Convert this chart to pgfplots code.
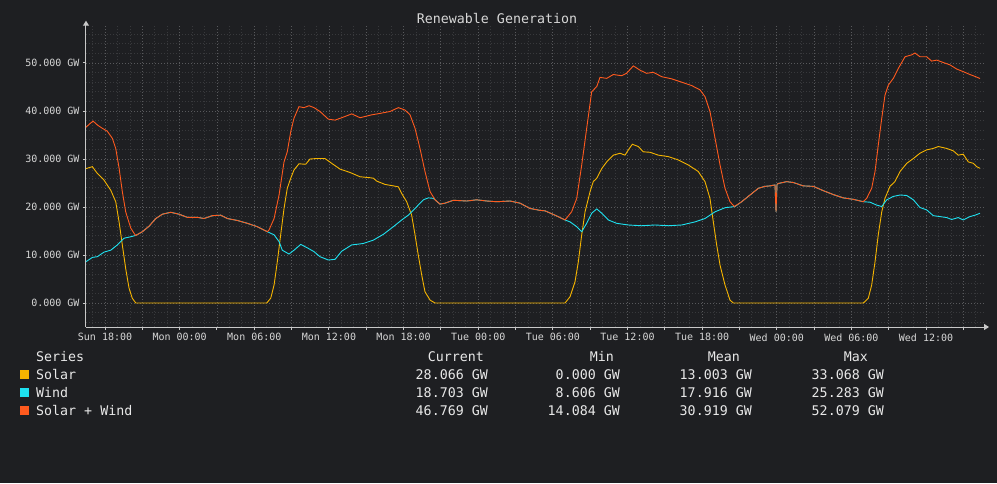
\documentclass[border=0pt]{standalone}
\usepackage{fontspec}
\setmainfont{DejaVu Sans Mono}
\usepackage{pgfplots}
\pgfplotsset{compat=1.18}
\usepackage{pgfplotstable}
\usetikzlibrary{arrows.meta}
\definecolor{bg}{RGB}{30,31,34}
\definecolor{solar}{RGB}{245,180,0}
\definecolor{wind}{RGB}{30,225,240}
\definecolor{total}{RGB}{255,90,30}
\definecolor{gmaj}{RGB}{88,89,92}
\definecolor{gmin}{RGB}{56,57,60}
\definecolor{axc}{RGB}{200,200,200}
\definecolor{txt}{RGB}{215,215,215}
\definecolor{ltxt}{RGB}{232,232,232}

\pgfplotstableread{
t v
-1.53 28.0
-1.02 28.4
-0.62 27.0
-0.08 25.6
0.46 23.5
0.86 21.1
1.13 16.9
1.39 12.1
1.66 7.2
1.93 3.1
2.19 1.0
2.47 0
13.00 0
13.32 1.0
13.59 3.75
13.85 8.6
14.12 14.2
14.39 19.7
14.65 23.9
14.93 26.0
15.19 27.7
15.59 29.0
16.13 28.9
16.48 30.0
17.02 30.1
17.68 30.1
18.22 29.1
18.89 27.9
19.69 27.2
20.50 26.3
21.30 26.1
21.57 26.0
21.84 25.4
22.51 24.7
23.18 24.4
23.58 24.2
23.85 22.8
24.25 21.1
24.65 18.3
24.92 14.2
25.18 10.0
25.46 5.8
25.72 2.35
26.13 0.6
26.53 0
36.98 0
37.38 1.3
37.78 4.4
38.05 8.6
38.32 14.2
38.59 19.0
38.99 23.2
39.25 25.3
39.53 26.0
39.93 28.0
40.33 29.4
40.86 30.8
41.40 31.2
41.80 30.8
42.07 31.9
42.39 33.07
42.87 32.6
43.27 31.5
43.81 31.4
44.48 30.8
45.28 30.5
46.09 29.8
46.89 28.75
47.69 27.4
48.23 25.3
48.63 21.8
48.90 16.9
49.17 12.1
49.44 7.9
49.84 3.75
50.24 0.6
50.51 0
60.96 0
61.36 1.0
61.63 3.75
61.90 8.6
62.16 14.2
62.44 19.0
62.70 21.8
63.10 24.3
63.50 25.3
63.91 27.4
64.45 29.1
64.98 30.1
65.51 31.2
66.05 31.9
66.58 32.2
66.99 32.6
67.66 32.2
68.19 31.7
68.59 30.8
68.99 31.0
69.40 29.4
69.80 29.1
70.07 28.4
70.34 28.07
}\solartab

\pgfplotstableread{
t v
-1.53 8.61
-1.02 9.5
-0.62 9.65
-0.08 10.6
0.46 11.0
0.99 12.1
1.53 13.5
2.07 13.8
2.47 14.08
3.00 14.85
3.54 16.0
4.08 17.6
4.61 18.5
5.28 18.9
5.95 18.5
6.62 17.85
7.42 17.85
7.96 17.6
8.63 18.2
9.30 18.3
9.83 17.6
10.63 17.2
11.44 16.6
12.24 15.9
13.05 14.85
13.59 14.2
13.99 12.8
14.25 11.0
14.79 10.2
15.19 11.0
15.73 12.2
16.26 11.5
16.80 10.7
17.28 9.65
17.95 8.96
18.49 9.1
19.03 10.8
19.83 12.1
20.76 12.4
21.57 13.1
22.37 14.3
23.18 15.9
23.85 17.3
24.38 18.3
24.92 19.7
25.59 21.5
25.99 21.9
26.39 21.8
26.93 20.6
27.33 20.8
28.00 21.4
29.08 21.25
29.88 21.5
30.68 21.25
31.49 21.1
32.56 21.25
33.36 20.8
34.16 19.7
34.97 19.3
35.37 19.2
36.17 18.3
36.98 17.3
37.38 16.9
37.92 15.9
38.32 14.85
38.72 16.6
39.12 18.7
39.53 19.6
39.93 18.7
40.46 17.3
41.13 16.6
42.07 16.25
43.14 16.1
44.21 16.25
45.28 16.1
46.36 16.25
47.43 16.9
48.23 17.6
49.04 19.0
49.84 19.85
50.64 20.1
51.18 21.1
51.85 22.5
52.52 23.9
53.05 24.3
53.46 24.4
53.86 24.6
53.94 19.0
54.02 24.7
54.12 24.9
54.80 25.28
55.33 25.1
56.13 24.4
56.94 24.3
57.74 23.4
58.54 22.6
59.35 21.9
60.15 21.6
60.96 21.1
61.50 21.0
62.03 20.4
62.44 20.1
62.84 21.5
63.37 22.2
63.91 22.5
64.45 22.4
64.98 21.5
65.51 19.9
66.05 19.4
66.58 18.2
67.12 18.0
67.66 17.8
68.06 17.4
68.59 17.8
68.99 17.3
69.53 18.0
69.94 18.3
70.34 18.70
}\windtab

\pgfplotstableread{
t v
-1.53 36.6
-1.29 37.2
-0.96 37.9
-0.62 37.1
-0.22 36.4
0.18 35.8
0.59 34.3
0.86 32.2
1.13 28.1
1.39 23.2
1.66 19.0
2.07 15.6
2.39 14.3
2.47 14.08
3.00 14.85
3.54 16.0
4.08 17.6
4.61 18.5
5.28 18.9
5.95 18.5
6.62 17.85
7.42 17.85
7.96 17.6
8.63 18.2
9.30 18.3
9.83 17.6
10.63 17.2
11.44 16.6
12.24 15.9
13.05 14.85
13.18 15.2
13.59 17.6
13.99 22.5
14.39 29.4
14.65 31.5
14.93 35.7
15.19 38.5
15.59 40.9
15.99 40.7
16.40 41.1
16.80 40.7
17.28 39.9
17.95 38.3
18.49 38.1
19.03 38.6
19.83 39.4
20.50 38.6
21.44 39.2
22.11 39.5
22.91 39.9
23.58 40.7
24.12 40.2
24.52 39.2
24.92 36.4
25.32 32.2
25.72 27.4
26.13 23.2
26.53 21.5
26.93 20.6
27.33 20.8
28.00 21.4
29.08 21.25
29.88 21.5
30.68 21.25
31.49 21.1
32.56 21.25
33.36 20.8
34.16 19.7
34.97 19.3
35.37 19.2
36.17 18.3
36.98 17.3
37.51 19.0
37.92 21.8
38.32 28.75
38.72 36.4
39.12 44.0
39.53 45.1
39.79 47.0
40.33 46.8
40.86 47.6
41.53 47.35
41.93 47.85
42.47 49.4
43.01 48.5
43.54 47.85
44.08 48.06
44.75 47.15
45.55 46.7
46.36 46.0
47.16 45.3
47.83 44.4
48.23 43.0
48.63 39.9
49.04 34.3
49.44 28.75
49.84 23.9
50.24 21.1
50.59 20.1
51.18 21.1
51.85 22.5
52.52 23.9
53.05 24.3
53.46 24.4
53.86 24.6
53.94 19.0
54.02 24.7
54.12 24.9
54.80 25.28
55.33 25.1
56.13 24.4
56.94 24.3
57.74 23.4
58.54 22.6
59.35 21.9
60.15 21.6
60.96 21.1
61.23 21.8
61.63 23.9
61.90 27.4
62.16 32.9
62.44 38.5
62.70 43.3
62.97 45.4
63.37 46.8
63.78 48.9
64.31 51.3
64.85 51.7
65.11 52.08
65.51 51.3
66.05 51.3
66.45 50.4
66.86 50.6
67.39 50.1
67.93 49.6
68.46 48.75
68.99 48.2
69.53 47.6
69.94 47.2
70.34 46.77
}\totaltab

\begin{document}
\begin{tikzpicture}
\fill[bg] (0,0) rectangle (997pt,-483pt);
\begin{axis}[
  at={(86pt,-327pt)}, anchor=south west,
  scale only axis, width=898pt, height=301.3pt,
  xmin=-1.53, xmax=70.66, ymin=-5, ymax=57.77,
  axis x line=bottom, axis y line=left,
  axis line style={draw=axc, line width=1pt, -{Triangle[width=6pt,length=5pt]}, shorten >=-5pt},
  xtick={0,3,...,69},
  xticklabels={Sun 18:00,,Mon 00:00,,Mon 06:00,,Mon 12:00,,Mon 18:00,,Tue 00:00,,Tue 06:00,,Tue 12:00,,Tue 18:00,,Wed 00:00,,Wed 06:00,,Wed 12:00,},
  minor xtick={-1,1,2,4,5,7,8,10,11,13,14,16,17,19,20,22,23,25,26,28,29,31,32,34,35,37,38,40,41,43,44,46,47,49,50,52,53,55,56,58,59,61,62,64,65,67,68,70},
  ytick={0,10,20,30,40,50},
  yticklabels={0.000 GW,10.000 GW,20.000 GW,30.000 GW,40.000 GW,50.000 GW},
  minor ytick={-4,-2,2,4,6,8,12,14,16,18,22,24,26,28,32,34,36,38,42,44,46,48,52,54,56},
  tick align=outside, major tick length=3pt, minor tick length=0pt,
  tick style={draw=axc, line width=1pt},
  grid=both,
  major grid style={draw=gmaj, line width=0.8pt, dash pattern=on 1pt off 2pt},
  minor grid style={draw=gmin, line width=0.8pt, dash pattern=on 1pt off 2pt},
  ticklabel style={font=\fontsize{10}{12}\selectfont, text=txt},
]
\addplot[solar, line width=0.9pt] table[x=t,y=v] {\solartab};
\addplot[wind, line width=0.9pt] table[x=t,y=v] {\windtab};
\addplot[total, line width=0.9pt] table[x=t,y=v] {\totaltab};
\end{axis}
\node[anchor=base, inner sep=0pt, text=txt, font=\fontsize{13.3}{16}\selectfont] at (497pt,-23.5pt) {Renewable Generation};
\begin{scope}[every node/.style={inner sep=0pt, text=ltxt, font=\fontsize{13.3}{16}\selectfont}]
\node[anchor=base west] at (36pt,-361pt) {Series};
\node[anchor=base east] at (484pt,-361pt) {Current};
\node[anchor=base east] at (614pt,-361pt) {Min};
\node[anchor=base east] at (740pt,-361pt) {Mean};
\node[anchor=base east] at (868pt,-361pt) {Max};
\fill[solar] (20pt,-370pt) rectangle (29pt,-379pt);
\fill[wind] (20pt,-388pt) rectangle (29pt,-397pt);
\fill[total] (20pt,-406pt) rectangle (29pt,-415pt);
\node[anchor=base west] at (36pt,-379pt) {Solar};
\node[anchor=base west] at (36pt,-397pt) {Wind};
\node[anchor=base west] at (36pt,-415pt) {Solar + Wind};
\node[anchor=base east] at (488pt,-379pt) {28.066 GW};
\node[anchor=base east] at (620pt,-379pt) {0.000 GW};
\node[anchor=base east] at (752pt,-379pt) {13.003 GW};
\node[anchor=base east] at (884pt,-379pt) {33.068 GW};
\node[anchor=base east] at (488pt,-397pt) {18.703 GW};
\node[anchor=base east] at (620pt,-397pt) {8.606 GW};
\node[anchor=base east] at (752pt,-397pt) {17.916 GW};
\node[anchor=base east] at (884pt,-397pt) {25.283 GW};
\node[anchor=base east] at (488pt,-415pt) {46.769 GW};
\node[anchor=base east] at (620pt,-415pt) {14.084 GW};
\node[anchor=base east] at (752pt,-415pt) {30.919 GW};
\node[anchor=base east] at (884pt,-415pt) {52.079 GW};
\end{scope}
\pgfresetboundingbox
\path (0,0) rectangle (997pt,-483pt);
\end{tikzpicture}
\end{document}
